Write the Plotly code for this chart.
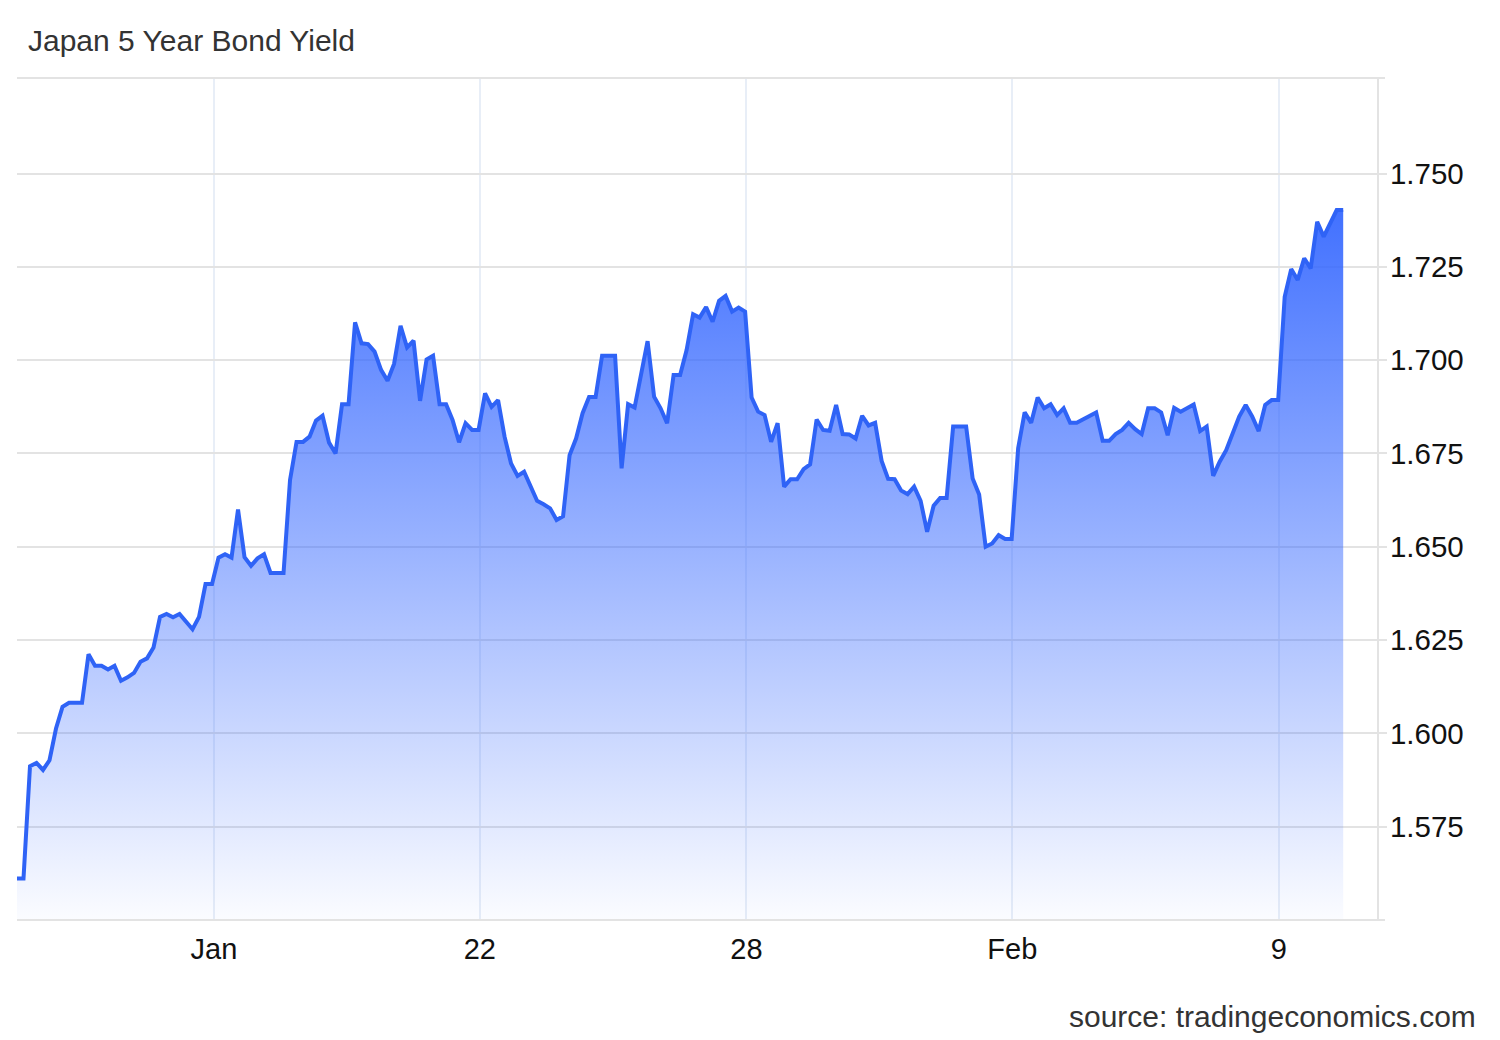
import plotly.graph_objects as go

# Japan 5Y yield, evenly spaced samples
yields = [
    1.5611, 1.5611, 1.5912, 1.5921, 1.5902, 1.5928, 1.6013, 1.6071, 1.6082, 1.6082,
    1.6082, 1.6212, 1.6181, 1.6181, 1.6171, 1.6181, 1.6141, 1.6150, 1.6162, 1.6192,
    1.6201, 1.6230, 1.6312, 1.6320, 1.6311, 1.6320, 1.6300, 1.6279, 1.6312, 1.6400,
    1.6400, 1.6471, 1.6480, 1.6471, 1.6600, 1.6472, 1.6449, 1.6469, 1.6480, 1.6430,
    1.6430, 1.6430, 1.6679, 1.6781, 1.6781, 1.6795, 1.6838, 1.6851, 1.6779, 1.6750,
    1.6882, 1.6882, 1.7101, 1.7045, 1.7043, 1.7023, 1.6974, 1.6945, 1.6990, 1.7092,
    1.7034, 1.7052, 1.6891, 1.7002, 1.7012, 1.6882, 1.6882, 1.6840, 1.6780, 1.6831,
    1.6813, 1.6813, 1.6911, 1.6875, 1.6893, 1.6795, 1.6723, 1.6690, 1.6701, 1.6661,
    1.6623, 1.6614, 1.6603, 1.6572, 1.6582, 1.6745, 1.6790, 1.6858, 1.6901, 1.6901,
    1.7012, 1.7012, 1.7012, 1.6710, 1.6882, 1.6873, 1.6956, 1.7051, 1.6902, 1.6871,
    1.6831, 1.6960, 1.6960, 1.7027, 1.7123, 1.7114, 1.7142, 1.7103, 1.7159, 1.7172,
    1.7130, 1.7141, 1.7130, 1.6900, 1.6862, 1.6853, 1.6781, 1.6831, 1.6661, 1.6681,
    1.6681, 1.6708, 1.6721, 1.6841, 1.6813, 1.6811, 1.6880, 1.6802, 1.6801, 1.6790,
    1.6851, 1.6825, 1.6832, 1.6730, 1.6682, 1.6681, 1.6651, 1.6641, 1.6661, 1.6623,
    1.6540, 1.6610, 1.6631, 1.6631, 1.6822, 1.6822, 1.6822, 1.6683, 1.6640, 1.6500,
    1.6509, 1.6531, 1.6521, 1.6521, 1.6764, 1.6860, 1.6832, 1.6900, 1.6871, 1.6882,
    1.6853, 1.6871, 1.6832, 1.6832, 1.6841, 1.6851, 1.6860, 1.6784, 1.6784, 1.6802,
    1.6813, 1.6832, 1.6815, 1.6802, 1.6871, 1.6871, 1.6860, 1.6799, 1.6872, 1.6862,
    1.6873, 1.6881, 1.6810, 1.6822, 1.6690, 1.6728, 1.6759, 1.6804, 1.6849, 1.6880,
    1.6849, 1.6810, 1.6880, 1.6893, 1.6893, 1.7170, 1.7244, 1.7215, 1.7273, 1.7246,
    1.7371, 1.7331, 1.7367, 1.7402, 1.7402,
]
sample = list(range(len(yields)))

tick_pos = [30.3, 71.2, 112.2, 153.1, 194.1]
tick_labels = ["Jan", "22", "28", "Feb", "9"]
y_ticks = [1.575, 1.600, 1.625, 1.650, 1.675, 1.700, 1.725, 1.750]

blue = "#2f63f6"
grid = "#e3e3e3"
font = "Liberation Sans"

# the page body adds an 8px offset, so everything is placed 8px up/left
fig = go.Figure()
fig.add_trace(go.Scatter(
    x=sample, y=yields,
    mode="lines",
    line=dict(color=blue, width=4),
    fill="tozeroy",
    fillgradient=dict(
        type="vertical",
        start=1.55, stop=1.745,
        colorscale=[[0, "rgba(51,102,255,0.02)"],
                    [1, "rgba(51,102,255,0.95)"]],
    ),
    hoverinfo="skip",
))

ext = 1 + 8 / 1360
fig.add_shape(type="line", xref="paper", yref="paper", x0=0, x1=ext, y0=1, y1=1,
              line=dict(color=grid, width=2))
fig.add_shape(type="line", xref="paper", yref="paper", x0=0, x1=ext, y0=0, y1=0,
              line=dict(color=grid, width=2))

fig.update_layout(
    width=1500, height=1040,
    margin=dict(l=9, r=131, t=70, b=128),
    paper_bgcolor="white", plot_bgcolor="white",
    showlegend=False,
    font=dict(family=font, size=29, color="#111"),
    title=dict(text="Japan 5 Year Bond Yield", x=20 / 1500, xanchor="left",
               xref="container", y=1 - 32 / 1040, yanchor="middle",
               font=dict(family=font, size=30, color="#333")),
    xaxis=dict(
        range=[0, 209.2],
        tickvals=tick_pos, ticktext=tick_labels,
        showgrid=True, gridcolor="#e8eef7", gridwidth=1.5,
        zeroline=False, showline=False, ticks="",
        ticklabelstandoff=9,
        tickfont=dict(family=font, size=29, color="#111"),
    ),
    yaxis=dict(
        range=[1.55, 1.7756], side="right",
        tickvals=y_ticks, tickformat=".3f",
        showgrid=True, gridcolor=grid, gridwidth=2,
        zeroline=False,
        showline=True, linecolor=grid, linewidth=2,
        ticks="outside", ticklen=8, tickcolor=grid, tickwidth=2,
        ticklabelstandoff=-3,
        tickfont=dict(family=font, size=29.5, color="#111"),
    ),
    annotations=[dict(
        text="source: tradingeconomics.com", xref="paper", yref="paper",
        x=(1470 - 9) / 1360, y=(912 - 1008) / 842,
        xanchor="right", yanchor="middle", showarrow=False,
        font=dict(family=font, size=30, color="#333"),
    )],
)

fig.write_html("out.html")
